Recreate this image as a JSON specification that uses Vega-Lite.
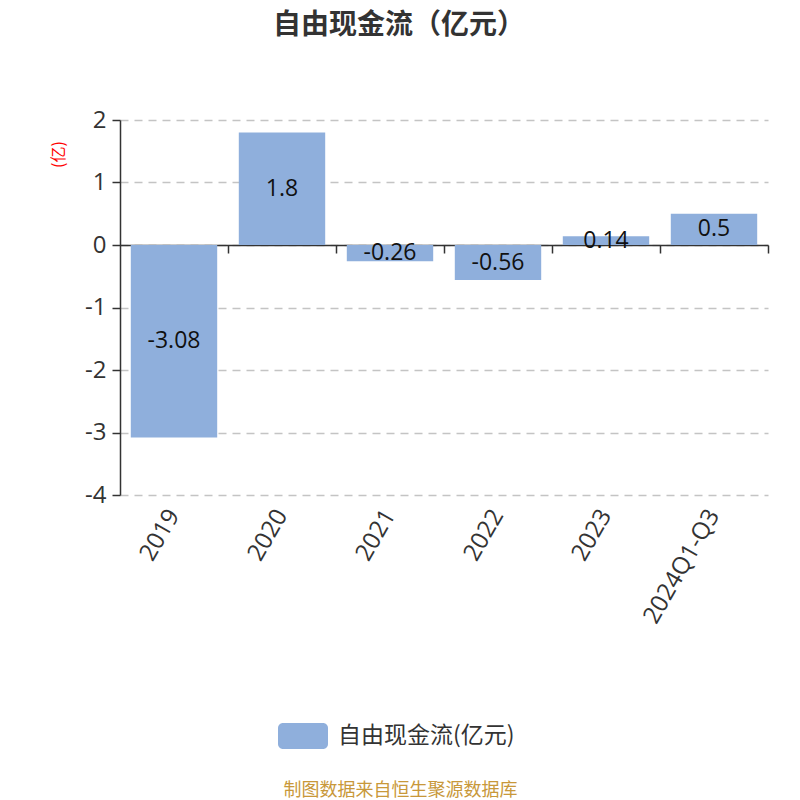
{
  "$schema": "https://vega.github.io/schema/vega-lite/v6.json",
  "width": 648,
  "height": 375,
  "autosize": {"type": "none"},
  "padding": {"left": 120, "top": 120, "right": 32, "bottom": 305},
  "background": "white",
  "config": {"font": "Open Sans, Noto Sans CJK SC", "view": {"stroke": null}},
  "title": {"text": "自由现金流（亿元）", "font": "Noto Sans CJK SC", "fontSize": 28, "fontWeight": "bold", "color": "#333333", "anchor": "middle", "frame": "group", "dx": -45, "offset": 68},
  "data": {"values": [
    {"year": "2019", "value": -3.08},
    {"year": "2020", "value": 1.8},
    {"year": "2021", "value": -0.26},
    {"year": "2022", "value": -0.56},
    {"year": "2023", "value": 0.14},
    {"year": "2024Q1-Q3", "value": 0.5}
  ]},
  "transform": [{"calculate": "datum.value / 2", "as": "mid"}],
  "layer": [
    {
      "mark": {"type": "bar"},
      "encoding": {
        "x": {"field": "year", "type": "nominal", "sort": null, "scale": {"paddingInner": 0.2, "paddingOuter": 0.1},
          "axis": {"orient": "bottom", "offset": -250, "labels": false, "title": null, "grid": false, "domainColor": "#333333", "domainWidth": 1.5, "tickColor": "#333333", "tickWidth": 1.5, "tickSize": 8, "tickOffset": 54}},
        "y": {"field": "value", "type": "quantitative", "scale": {"domain": [-4, 2], "nice": false, "zero": false},
          "axis": {"values": [-4, -3, -2, -1, 0, 1, 2], "labelExpr": "'' + datum.value", "title": "(亿)", "titleColor": "#ff0000", "titleFont": "Noto Sans CJK SC", "titleFontSize": 16, "titleFontWeight": "normal", "titleAngle": -90, "titleX": -62, "titleY": 34, "titleAlign": "center", "titleBaseline": "middle",
            "labelFontSize": 24, "labelColor": "#333333", "labelPadding": 6, "domainColor": "#333333", "domainWidth": 1.5, "tickColor": "#333333", "tickWidth": 1.5, "tickSize": 8,
            "grid": true, "gridColor": "#c4c4c4", "gridDash": [8, 6], "gridWidth": 1.5}},
        "color": {"datum": "自由现金流(亿元)", "scale": {"range": ["#8fafdc"]},
          "legend": {"orient": "none", "legendX": 158, "legendY": 591, "title": null, "symbolType": "M-0.8,-0.52L0.8,-0.52A0.2,0.2 0 0 1 1,-0.32L1,0.32A0.2,0.2 0 0 1 0.8,0.52L-0.8,0.52A0.2,0.2 0 0 1 -1,0.32L-1,-0.32A0.2,0.2 0 0 1 -0.8,-0.52Z", "symbolSize": 2500, "symbolStrokeWidth": 0, "labelFontSize": 23, "labelLimit": 400, "labelColor": "#333333", "labelFont": "Noto Sans CJK SC", "labelOffset": 10}}
      }
    },
    {
      "mark": {"type": "text", "fontSize": 23, "color": "#111111", "baseline": "middle", "align": "center"},
      "encoding": {
        "x": {"field": "year", "type": "nominal", "sort": null,
          "axis": {"orient": "bottom", "domain": false, "ticks": false, "tickSize": 0, "grid": false, "labelAngle": -60, "labelAlign": "right", "labelBaseline": "middle", "labelFontSize": 24, "labelColor": "#333333", "labelPadding": 16,
            "title": "制图数据来自恒生聚源数据库", "titleFont": "Noto Sans CJK SC", "titleFontSize": 18, "titleFontWeight": "normal", "titleColor": "#c8983a", "titleX": 280, "titleY": 295, "titleAlign": "center", "titleBaseline": "middle"}},
        "y": {"field": "mid", "type": "quantitative", "axis": null},
        "text": {"field": "value", "type": "nominal"}
      }
    }
  ],
  "resolve": {"axis": {"x": "independent", "y": "independent"}}
}
